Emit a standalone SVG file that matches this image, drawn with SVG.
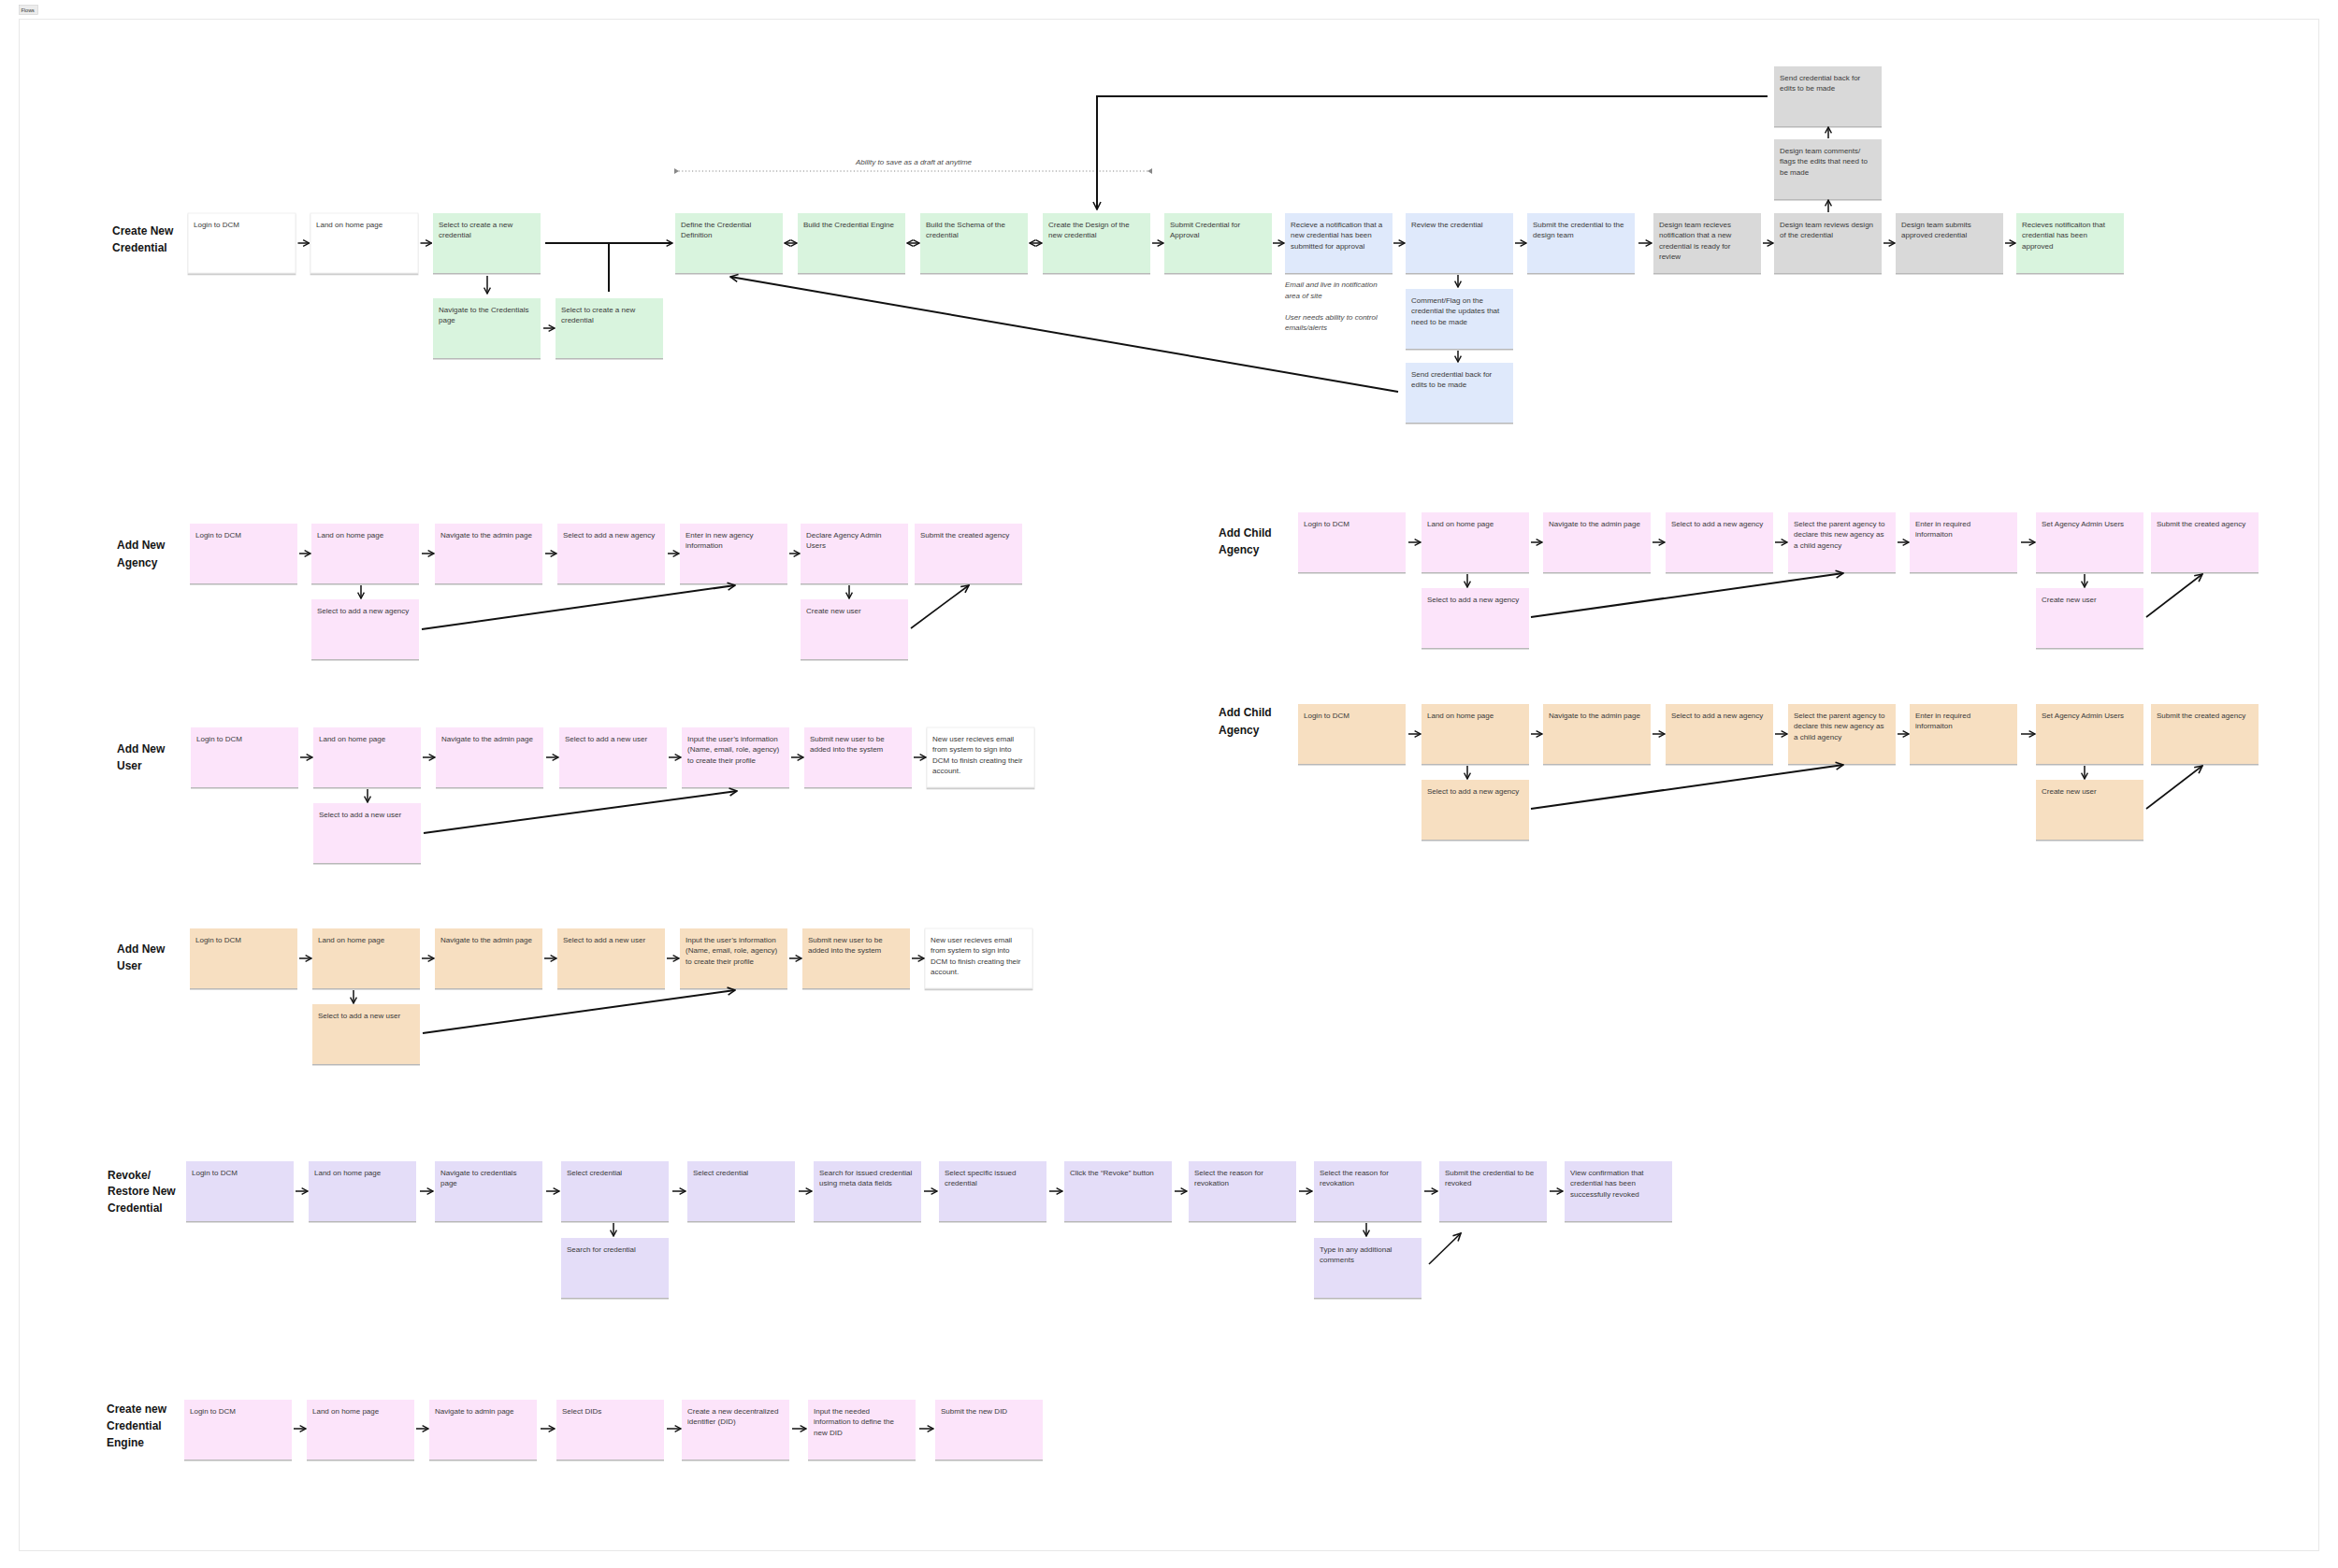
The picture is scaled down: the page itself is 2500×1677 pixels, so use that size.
<svg xmlns="http://www.w3.org/2000/svg" width="2500" height="1677" viewBox="0 0 2500 1677">
<defs>
<style>
.t{font-family:"Liberation Sans",Arial,sans-serif;font-size:8px;fill:#3a3a3a}
.ttl{font-family:"Liberation Sans",Arial,sans-serif;font-size:12px;font-weight:bold;fill:#151515}
.note{font-family:"Liberation Sans",Arial,sans-serif;font-size:8px;font-style:italic;fill:#4a4a4a}
.box{filter:url(#ds)}
.w{fill:#ffffff;stroke:#ececec;stroke-width:0.8}
.g{fill:#d9f4de}
.b{fill:#dfe9fb}
.gr{fill:#d9d9d9}
.p{fill:#fce4fa}
.o{fill:#f7dfc1}
.v{fill:#e4ddf8}
.a{stroke:#111;stroke-width:1.5;fill:none;marker-end:url(#ah)}
.d{stroke:#111;stroke-width:1.5;fill:none;marker-start:url(#ah);marker-end:url(#ah)}
.L{stroke:#111;stroke-width:2;fill:none;marker-end:url(#ahL)}
.n{stroke:#111;stroke-width:2;fill:none}
</style>
<filter id="ds" x="-5%" y="-5%" width="110%" height="115%">
<feDropShadow dx="0" dy="1.5" stdDeviation="0.5" flood-color="#000" flood-opacity="0.28"/>
</filter>
<marker id="ah" viewBox="0 0 10 10" refX="9" refY="5" markerWidth="8.5" markerHeight="8.5" markerUnits="userSpaceOnUse" orient="auto-start-reverse">
<path d="M1.5,1 L9,5 L1.5,9" fill="none" stroke="#111" stroke-width="1.6"/>
</marker>
<marker id="ahL" viewBox="0 0 10 10" refX="9" refY="5" markerWidth="10" markerHeight="10" markerUnits="userSpaceOnUse" orient="auto-start-reverse">
<path d="M1,1 L9,5 L1,9" fill="none" stroke="#111" stroke-width="1.6"/>
</marker>
</defs>
<rect width="2500" height="1677" fill="#ffffff"/>
<g id="frame">
<rect x="20.5" y="20.5" width="2459" height="1638" fill="none" stroke="#e8e8e8" stroke-width="1"/>
<rect x="20.5" y="5.5" width="20" height="10" fill="#ececec" stroke="#cfcfcf" stroke-width="0.6"/>
<text x="22.5" y="13" style="font-family:'Liberation Sans',Arial,sans-serif;font-size:5.5px;fill:#333">Flows</text>
</g>

<g id="titles">
<text class="ttl" x="120" y="251">Create New</text><text class="ttl" x="120" y="269">Credential</text>
<text class="ttl" x="125" y="587">Add New</text><text class="ttl" x="125" y="606">Agency</text>
<text class="ttl" x="125" y="805">Add New</text><text class="ttl" x="125" y="823">User</text>
<text class="ttl" x="125" y="1019">Add New</text><text class="ttl" x="125" y="1037">User</text>
<text class="ttl" x="1303" y="574">Add Child</text><text class="ttl" x="1303" y="592">Agency</text>
<text class="ttl" x="1303" y="766">Add Child</text><text class="ttl" x="1303" y="785">Agency</text>
<text class="ttl" x="115" y="1261">Revoke/</text><text class="ttl" x="115" y="1278">Restore New</text><text class="ttl" x="115" y="1296">Credential</text>
<text class="ttl" x="114" y="1511">Create new</text><text class="ttl" x="114" y="1529">Credential</text><text class="ttl" x="114" y="1547">Engine</text>
</g>

<g id="notes">
<text class="note" x="1374" y="307">Email and live in notification</text>
<text class="note" x="1374" y="318.5">area of site</text>
<text class="note" x="1374" y="341.5">User needs ability to control</text>
<text class="note" x="1374" y="353">emails/alerts</text>
<text class="note" x="977" y="176" text-anchor="middle">Ability to save as a draft at anytime</text>
</g>

<!-- Create New Credential -->
<g id="cnc-login" transform="translate(201,228)"><rect class="box w" width="115" height="64"/><text class="t" x="6" y="15">Login to DCM</text></g>
<g id="cnc-land" transform="translate(332,228)"><rect class="box w" width="115" height="64"/><text class="t" x="6" y="15">Land on home page</text></g>
<g id="cnc-select" transform="translate(463,228)"><rect class="box g" width="115" height="64"/><text class="t" x="6" y="15"><tspan x="6">Select to create a new</tspan><tspan x="6" dy="11.3">credential</tspan></text></g>
<g id="cnc-nav" transform="translate(463,319)"><rect class="box g" width="115" height="64"/><text class="t" x="6" y="15"><tspan x="6">Navigate to the Credentials</tspan><tspan x="6" dy="11.3">page</tspan></text></g>
<g id="cnc-select2" transform="translate(594,319)"><rect class="box g" width="115" height="64"/><text class="t" x="6" y="15"><tspan x="6">Select to create a new</tspan><tspan x="6" dy="11.3">credential</tspan></text></g>
<g id="cnc-define" transform="translate(722,228)"><rect class="box g" width="115" height="64"/><text class="t" x="6" y="15"><tspan x="6">Define the Credential</tspan><tspan x="6" dy="11.3">Definition</tspan></text></g>
<g id="cnc-engine" transform="translate(853,228)"><rect class="box g" width="115" height="64"/><text class="t" x="6" y="15">Build the Credential Engine</text></g>
<g id="cnc-schema" transform="translate(984,228)"><rect class="box g" width="115" height="64"/><text class="t" x="6" y="15"><tspan x="6">Build the Schema of the</tspan><tspan x="6" dy="11.3">credential</tspan></text></g>
<g id="cnc-design" transform="translate(1115,228)"><rect class="box g" width="115" height="64"/><text class="t" x="6" y="15"><tspan x="6">Create the Design of the</tspan><tspan x="6" dy="11.3">new credential</tspan></text></g>
<g id="cnc-submit" transform="translate(1245,228)"><rect class="box g" width="115" height="64"/><text class="t" x="6" y="15"><tspan x="6">Submit Credential for</tspan><tspan x="6" dy="11.3">Approval</tspan></text></g>
<g id="cnc-recieve" transform="translate(1374,228)"><rect class="box b" width="115" height="64"/><text class="t" x="6" y="15"><tspan x="6">Recieve a notification that a</tspan><tspan x="6" dy="11.3">new credential has been</tspan><tspan x="6" dy="11.3">submitted for approval</tspan></text></g>
<g id="cnc-review" transform="translate(1503,228)"><rect class="box b" width="115" height="64"/><text class="t" x="6" y="15">Review the credential</text></g>
<g id="cnc-comment" transform="translate(1503,309)"><rect class="box b" width="115" height="64"/><text class="t" x="6" y="15"><tspan x="6">Comment/Flag on the</tspan><tspan x="6" dy="11.3">credential the updates that</tspan><tspan x="6" dy="11.3">need to be made</tspan></text></g>
<g id="cnc-sendback" transform="translate(1503,388)"><rect class="box b" width="115" height="64"/><text class="t" x="6" y="15"><tspan x="6">Send credential back for</tspan><tspan x="6" dy="11.3">edits to be made</tspan></text></g>
<g id="cnc-submitdesign" transform="translate(1633,228)"><rect class="box b" width="115" height="64"/><text class="t" x="6" y="15"><tspan x="6">Submit the credential to the</tspan><tspan x="6" dy="11.3">design team</tspan></text></g>
<g id="cnc-dtrecieves" transform="translate(1768,228)"><rect class="box gr" width="115" height="64"/><text class="t" x="6" y="15"><tspan x="6">Design team recieves</tspan><tspan x="6" dy="11.3">notification that a new</tspan><tspan x="6" dy="11.3">credential is ready for</tspan><tspan x="6" dy="11.3">review</tspan></text></g>
<g id="cnc-dtreviews" transform="translate(1897,228)"><rect class="box gr" width="115" height="64"/><text class="t" x="6" y="15"><tspan x="6">Design team reviews design</tspan><tspan x="6" dy="11.3">of the credential</tspan></text></g>
<g id="cnc-dtcomments" transform="translate(1897,149)"><rect class="box gr" width="115" height="64"/><text class="t" x="6" y="15"><tspan x="6">Design team comments/</tspan><tspan x="6" dy="11.3">flags the edits that need to</tspan><tspan x="6" dy="11.3">be made</tspan></text></g>
<g id="cnc-dtsendback" transform="translate(1897,71)"><rect class="box gr" width="115" height="64"/><text class="t" x="6" y="15"><tspan x="6">Send credential back for</tspan><tspan x="6" dy="11.3">edits to be made</tspan></text></g>
<g id="cnc-dtsubmits" transform="translate(2027,228)"><rect class="box gr" width="115" height="64"/><text class="t" x="6" y="15"><tspan x="6">Design team submits</tspan><tspan x="6" dy="11.3">approved credential</tspan></text></g>
<g id="cnc-approved" transform="translate(2156,228)"><rect class="box g" width="115" height="64"/><text class="t" x="6" y="15"><tspan x="6">Recieves notificaiton that</tspan><tspan x="6" dy="11.3">credential has been</tspan><tspan x="6" dy="11.3">approved</tspan></text></g>

<!-- Add New Agency -->
<g id="ana-login" transform="translate(203,560)"><rect class="box p" width="115" height="64"/><text class="t" x="6" y="15">Login to DCM</text></g>
<g id="ana-land" transform="translate(333,560)"><rect class="box p" width="115" height="64"/><text class="t" x="6" y="15">Land on home page</text></g>
<g id="ana-nav" transform="translate(465,560)"><rect class="box p" width="115" height="64"/><text class="t" x="6" y="15">Navigate to the admin page</text></g>
<g id="ana-select" transform="translate(596,560)"><rect class="box p" width="115" height="64"/><text class="t" x="6" y="15">Select to add a new agency</text></g>
<g id="ana-enter" transform="translate(727,560)"><rect class="box p" width="115" height="64"/><text class="t" x="6" y="15"><tspan x="6">Enter in new agency</tspan><tspan x="6" dy="11.3">information</tspan></text></g>
<g id="ana-declare" transform="translate(856,560)"><rect class="box p" width="115" height="64"/><text class="t" x="6" y="15"><tspan x="6">Declare Agency Admin</tspan><tspan x="6" dy="11.3">Users</tspan></text></g>
<g id="ana-submit" transform="translate(978,560)"><rect class="box p" width="115" height="64"/><text class="t" x="6" y="15">Submit the created agency</text></g>
<g id="ana-select2" transform="translate(333,641)"><rect class="box p" width="115" height="64"/><text class="t" x="6" y="15">Select to add a new agency</text></g>
<g id="ana-newuser" transform="translate(856,641)"><rect class="box p" width="115" height="64"/><text class="t" x="6" y="15">Create new user</text></g>

<!-- Add New User (pink) -->
<g id="anu1-login" transform="translate(204,778)"><rect class="box p" width="115" height="64"/><text class="t" x="6" y="15">Login to DCM</text></g>
<g id="anu1-land" transform="translate(335,778)"><rect class="box p" width="115" height="64"/><text class="t" x="6" y="15">Land on home page</text></g>
<g id="anu1-nav" transform="translate(466,778)"><rect class="box p" width="115" height="64"/><text class="t" x="6" y="15">Navigate to the admin page</text></g>
<g id="anu1-select" transform="translate(598,778)"><rect class="box p" width="115" height="64"/><text class="t" x="6" y="15">Select to add a new user</text></g>
<g id="anu1-input" transform="translate(729,778)"><rect class="box p" width="115" height="64"/><text class="t" x="6" y="15"><tspan x="6">Input the user’s information</tspan><tspan x="6" dy="11.3">(Name, email, role, agency)</tspan><tspan x="6" dy="11.3">to create their profile</tspan></text></g>
<g id="anu1-submit" transform="translate(860,778)"><rect class="box p" width="115" height="64"/><text class="t" x="6" y="15"><tspan x="6">Submit new user to be</tspan><tspan x="6" dy="11.3">added into the system</tspan></text></g>
<g id="anu1-email" transform="translate(991,778)"><rect class="box w" width="115" height="64"/><text class="t" x="6" y="15"><tspan x="6">New user recieves email</tspan><tspan x="6" dy="11.3">from system to sign into</tspan><tspan x="6" dy="11.3">DCM to finish creating their</tspan><tspan x="6" dy="11.3">account.</tspan></text></g>
<g id="anu1-select2" transform="translate(335,859)"><rect class="box p" width="115" height="64"/><text class="t" x="6" y="15">Select to add a new user</text></g>

<!-- Add New User (orange) -->
<g id="anu2-login" transform="translate(203,993)"><rect class="box o" width="115" height="64"/><text class="t" x="6" y="15">Login to DCM</text></g>
<g id="anu2-land" transform="translate(334,993)"><rect class="box o" width="115" height="64"/><text class="t" x="6" y="15">Land on home page</text></g>
<g id="anu2-nav" transform="translate(465,993)"><rect class="box o" width="115" height="64"/><text class="t" x="6" y="15">Navigate to the admin page</text></g>
<g id="anu2-select" transform="translate(596,993)"><rect class="box o" width="115" height="64"/><text class="t" x="6" y="15">Select to add a new user</text></g>
<g id="anu2-input" transform="translate(727,993)"><rect class="box o" width="115" height="64"/><text class="t" x="6" y="15"><tspan x="6">Input the user’s information</tspan><tspan x="6" dy="11.3">(Name, email, role, agency)</tspan><tspan x="6" dy="11.3">to create their profile</tspan></text></g>
<g id="anu2-submit" transform="translate(858,993)"><rect class="box o" width="115" height="64"/><text class="t" x="6" y="15"><tspan x="6">Submit new user to be</tspan><tspan x="6" dy="11.3">added into the system</tspan></text></g>
<g id="anu2-email" transform="translate(989,993)"><rect class="box w" width="115" height="64"/><text class="t" x="6" y="15"><tspan x="6">New user recieves email</tspan><tspan x="6" dy="11.3">from system to sign into</tspan><tspan x="6" dy="11.3">DCM to finish creating their</tspan><tspan x="6" dy="11.3">account.</tspan></text></g>
<g id="anu2-select2" transform="translate(334,1074)"><rect class="box o" width="115" height="64"/><text class="t" x="6" y="15">Select to add a new user</text></g>

<!-- Add Child Agency (pink) -->
<g id="aca1-login" transform="translate(1388,548)"><rect class="box p" width="115" height="64"/><text class="t" x="6" y="15">Login to DCM</text></g>
<g id="aca1-land" transform="translate(1520,548)"><rect class="box p" width="115" height="64"/><text class="t" x="6" y="15">Land on home page</text></g>
<g id="aca1-nav" transform="translate(1650,548)"><rect class="box p" width="115" height="64"/><text class="t" x="6" y="15">Navigate to the admin page</text></g>
<g id="aca1-select" transform="translate(1781,548)"><rect class="box p" width="115" height="64"/><text class="t" x="6" y="15">Select to add a new agency</text></g>
<g id="aca1-parent" transform="translate(1912,548)"><rect class="box p" width="115" height="64"/><text class="t" x="6" y="15"><tspan x="6">Select the parent agency to</tspan><tspan x="6" dy="11.3">declare this new agency as</tspan><tspan x="6" dy="11.3">a child agency</tspan></text></g>
<g id="aca1-enter" transform="translate(2042,548)"><rect class="box p" width="115" height="64"/><text class="t" x="6" y="15"><tspan x="6">Enter in required</tspan><tspan x="6" dy="11.3">informaiton</tspan></text></g>
<g id="aca1-admins" transform="translate(2177,548)"><rect class="box p" width="115" height="64"/><text class="t" x="6" y="15">Set Agency Admin Users</text></g>
<g id="aca1-submit" transform="translate(2300,548)"><rect class="box p" width="115" height="64"/><text class="t" x="6" y="15">Submit the created agency</text></g>
<g id="aca1-select2" transform="translate(1520,629)"><rect class="box p" width="115" height="64"/><text class="t" x="6" y="15">Select to add a new agency</text></g>
<g id="aca1-newuser" transform="translate(2177,629)"><rect class="box p" width="115" height="64"/><text class="t" x="6" y="15">Create new user</text></g>

<!-- Add Child Agency (orange) -->
<g id="aca2-login" transform="translate(1388,753)"><rect class="box o" width="115" height="64"/><text class="t" x="6" y="15">Login to DCM</text></g>
<g id="aca2-land" transform="translate(1520,753)"><rect class="box o" width="115" height="64"/><text class="t" x="6" y="15">Land on home page</text></g>
<g id="aca2-nav" transform="translate(1650,753)"><rect class="box o" width="115" height="64"/><text class="t" x="6" y="15">Navigate to the admin page</text></g>
<g id="aca2-select" transform="translate(1781,753)"><rect class="box o" width="115" height="64"/><text class="t" x="6" y="15">Select to add a new agency</text></g>
<g id="aca2-parent" transform="translate(1912,753)"><rect class="box o" width="115" height="64"/><text class="t" x="6" y="15"><tspan x="6">Select the parent agency to</tspan><tspan x="6" dy="11.3">declare this new agency as</tspan><tspan x="6" dy="11.3">a child agency</tspan></text></g>
<g id="aca2-enter" transform="translate(2042,753)"><rect class="box o" width="115" height="64"/><text class="t" x="6" y="15"><tspan x="6">Enter in required</tspan><tspan x="6" dy="11.3">informaiton</tspan></text></g>
<g id="aca2-admins" transform="translate(2177,753)"><rect class="box o" width="115" height="64"/><text class="t" x="6" y="15">Set Agency Admin Users</text></g>
<g id="aca2-submit" transform="translate(2300,753)"><rect class="box o" width="115" height="64"/><text class="t" x="6" y="15">Submit the created agency</text></g>
<g id="aca2-select2" transform="translate(1520,834)"><rect class="box o" width="115" height="64"/><text class="t" x="6" y="15">Select to add a new agency</text></g>
<g id="aca2-newuser" transform="translate(2177,834)"><rect class="box o" width="115" height="64"/><text class="t" x="6" y="15">Create new user</text></g>

<!-- Revoke / Restore -->
<g id="rv-login" transform="translate(199,1242)"><rect class="box v" width="115" height="64"/><text class="t" x="6" y="15">Login to DCM</text></g>
<g id="rv-land" transform="translate(330,1242)"><rect class="box v" width="115" height="64"/><text class="t" x="6" y="15">Land on home page</text></g>
<g id="rv-nav" transform="translate(465,1242)"><rect class="box v" width="115" height="64"/><text class="t" x="6" y="15"><tspan x="6">Navigate to credentials</tspan><tspan x="6" dy="11.3">page</tspan></text></g>
<g id="rv-select" transform="translate(600,1242)"><rect class="box v" width="115" height="64"/><text class="t" x="6" y="15">Select credential</text></g>
<g id="rv-select2" transform="translate(735,1242)"><rect class="box v" width="115" height="64"/><text class="t" x="6" y="15">Select credential</text></g>
<g id="rv-searchissued" transform="translate(870,1242)"><rect class="box v" width="115" height="64"/><text class="t" x="6" y="15"><tspan x="6">Search for issued credential</tspan><tspan x="6" dy="11.3">using meta data fields</tspan></text></g>
<g id="rv-specific" transform="translate(1004,1242)"><rect class="box v" width="115" height="64"/><text class="t" x="6" y="15"><tspan x="6">Select specific issued</tspan><tspan x="6" dy="11.3">credential</tspan></text></g>
<g id="rv-click" transform="translate(1138,1242)"><rect class="box v" width="115" height="64"/><text class="t" x="6" y="15">Click the “Revoke” button</text></g>
<g id="rv-reason" transform="translate(1271,1242)"><rect class="box v" width="115" height="64"/><text class="t" x="6" y="15"><tspan x="6">Select the reason for</tspan><tspan x="6" dy="11.3">revokation</tspan></text></g>
<g id="rv-reason2" transform="translate(1405,1242)"><rect class="box v" width="115" height="64"/><text class="t" x="6" y="15"><tspan x="6">Select the reason for</tspan><tspan x="6" dy="11.3">revokation</tspan></text></g>
<g id="rv-submit" transform="translate(1539,1242)"><rect class="box v" width="115" height="64"/><text class="t" x="6" y="15"><tspan x="6">Submit the credential to be</tspan><tspan x="6" dy="11.3">revoked</tspan></text></g>
<g id="rv-confirm" transform="translate(1673,1242)"><rect class="box v" width="115" height="64"/><text class="t" x="6" y="15"><tspan x="6">View confirmation that</tspan><tspan x="6" dy="11.3">credential has been</tspan><tspan x="6" dy="11.3">successfully revoked</tspan></text></g>
<g id="rv-search" transform="translate(600,1324)"><rect class="box v" width="115" height="64"/><text class="t" x="6" y="15">Search for credential</text></g>
<g id="rv-comments" transform="translate(1405,1324)"><rect class="box v" width="115" height="64"/><text class="t" x="6" y="15"><tspan x="6">Type in any additional</tspan><tspan x="6" dy="11.3">comments</tspan></text></g>

<!-- Create new Credential Engine -->
<g id="ce-login" transform="translate(197,1497)"><rect class="box p" width="115" height="64"/><text class="t" x="6" y="15">Login to DCM</text></g>
<g id="ce-land" transform="translate(328,1497)"><rect class="box p" width="115" height="64"/><text class="t" x="6" y="15">Land on home page</text></g>
<g id="ce-nav" transform="translate(459,1497)"><rect class="box p" width="115" height="64"/><text class="t" x="6" y="15">Navigate to admin page</text></g>
<g id="ce-dids" transform="translate(595,1497)"><rect class="box p" width="115" height="64"/><text class="t" x="6" y="15">Select DIDs</text></g>
<g id="ce-create" transform="translate(729,1497)"><rect class="box p" width="115" height="64"/><text class="t" x="6" y="15"><tspan x="6">Create a new decentralized</tspan><tspan x="6" dy="11.3">identifier (DID)</tspan></text></g>
<g id="ce-input" transform="translate(864,1497)"><rect class="box p" width="115" height="64"/><text class="t" x="6" y="15"><tspan x="6">Input the needed</tspan><tspan x="6" dy="11.3">information to define the</tspan><tspan x="6" dy="11.3">new DID</tspan></text></g>
<g id="ce-submit" transform="translate(1000,1497)"><rect class="box p" width="115" height="64"/><text class="t" x="6" y="15">Submit the new DID</text></g>

<g id="connectors">
<!-- dotted draft range -->
<path d="M722,183 H1231" stroke="#8a8a8a" stroke-width="1.2" stroke-dasharray="1.2 2.4" fill="none"/>
<path d="M721,180 L726,183 L721,186 Z" fill="#888"/>
<path d="M1232,180 L1227,183 L1232,186 Z" fill="#888"/>
<!-- row 1 -->
<path class="a" d="M318.5,260 H330.5"/>
<path class="a" d="M449.5,260 H461.5"/>
<path class="a" d="M583,260 H719" style="stroke-width:2"/>
<path class="n" d="M651,312 V260"/>
<path class="a" d="M521,295 V314"/>
<path class="a" d="M581,351 H593"/>
<path class="d" d="M839,260 H852"/>
<path class="d" d="M970,260 H983"/>
<path class="d" d="M1101,260 H1114"/>
<path class="a" d="M1232,260 H1244"/>
<path class="a" d="M1361,260 H1373"/>
<path class="a" d="M1490,260 H1502"/>
<path class="a" d="M1620,260 H1632"/>
<path class="a" d="M1752,260 H1766"/>
<path class="a" d="M1885,260 H1896"/>
<path class="a" d="M2014,260 H2026"/>
<path class="a" d="M2144,260 H2155"/>
<path class="a" d="M1559,294 V307"/>
<path class="a" d="M1559,375 V387"/>
<path class="a" d="M1955,227 V214"/>
<path class="a" d="M1955,148 V136"/>
<path class="L" d="M1890,103 H1173 V224"/>
<path class="L" d="M1495,419 L781,296"/>
<!-- add new agency -->
<path class="a" d="M320,592 H332"/>
<path class="a" d="M451,592 H464"/>
<path class="a" d="M583,592 H595"/>
<path class="a" d="M714,592 H726"/>
<path class="a" d="M844,592 H855"/>
<path class="a" d="M386,626 V640"/>
<path class="a" d="M908,626 V640"/>
<path class="L" d="M451,673 L786,626"/>
<path class="L" d="M974,672 L1036,626" style="stroke-width:1.6"/>
<!-- add new user pink -->
<path class="a" d="M321,810 H334"/>
<path class="a" d="M452,810 H465"/>
<path class="a" d="M584,810 H597"/>
<path class="a" d="M715,810 H728"/>
<path class="a" d="M846,810 H859"/>
<path class="a" d="M977,810 H990"/>
<path class="a" d="M393,844 V858"/>
<path class="L" d="M453,891 L788,846"/>
<!-- add new user orange -->
<path class="a" d="M320,1025 H333"/>
<path class="a" d="M451,1025 H464"/>
<path class="a" d="M582,1025 H595"/>
<path class="a" d="M713,1025 H726"/>
<path class="a" d="M844,1025 H857"/>
<path class="a" d="M975,1025 H988"/>
<path class="a" d="M378,1059 V1073"/>
<path class="L" d="M452,1105 L786,1059"/>
<!-- add child agency pink -->
<path class="a" d="M1506,580 H1519"/>
<path class="a" d="M1637,580 H1649"/>
<path class="a" d="M1767,580 H1780"/>
<path class="a" d="M1898,580 H1911"/>
<path class="a" d="M2029,580 H2041"/>
<path class="a" d="M2161,580 H2176"/>
<path class="a" d="M1569,614 V628"/>
<path class="a" d="M2229,614 V628"/>
<path class="L" d="M1637,660 L1971,613"/>
<path class="L" d="M2295,660 L2355,614" style="stroke-width:1.6"/>
<!-- add child agency orange -->
<path class="a" d="M1506,785 H1519"/>
<path class="a" d="M1637,785 H1649"/>
<path class="a" d="M1767,785 H1780"/>
<path class="a" d="M1898,785 H1911"/>
<path class="a" d="M2029,785 H2041"/>
<path class="a" d="M2161,785 H2176"/>
<path class="a" d="M1569,819 V833"/>
<path class="a" d="M2229,819 V833"/>
<path class="L" d="M1637,865 L1971,818"/>
<path class="L" d="M2295,865 L2355,819" style="stroke-width:1.6"/>
<!-- revoke -->
<path class="a" d="M316,1274 H329"/>
<path class="a" d="M449,1274 H463"/>
<path class="a" d="M584,1274 H598"/>
<path class="a" d="M719,1274 H733"/>
<path class="a" d="M854,1274 H868"/>
<path class="a" d="M988,1274 H1002"/>
<path class="a" d="M1122,1274 H1136"/>
<path class="a" d="M1256,1274 H1269"/>
<path class="a" d="M1389,1274 H1403"/>
<path class="a" d="M1523,1274 H1537"/>
<path class="a" d="M1657,1274 H1671"/>
<path class="a" d="M656,1308 V1322"/>
<path class="a" d="M1461,1308 V1322"/>
<path class="L" d="M1528,1352 L1562,1319" style="stroke-width:1.6"/>
<!-- credential engine -->
<path class="a" d="M314,1528 H327"/>
<path class="a" d="M445,1528 H458"/>
<path class="a" d="M578,1528 H593"/>
<path class="a" d="M713,1528 H728"/>
<path class="a" d="M847,1528 H862"/>
<path class="a" d="M983,1528 H998"/>
</g>
</svg>
